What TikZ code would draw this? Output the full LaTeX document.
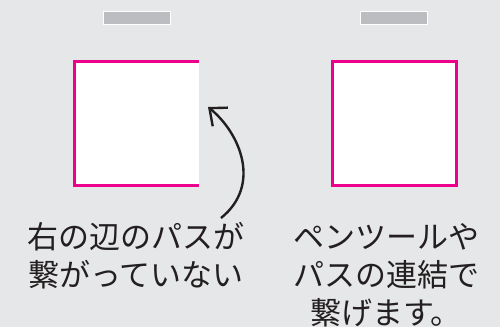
\documentclass[tikz,border=0pt]{standalone}
\usepackage{fontspec}
\newfontfamily\jpfont{Noto Sans CJK JP}
\usetikzlibrary{arrows.meta}
\definecolor{bg}{HTML}{E6E7E8}
\definecolor{bar}{HTML}{BCBDC0}
\definecolor{mag}{HTML}{EC008C}
\definecolor{ink}{HTML}{231F20}
\tikzset{
  px/.style={x=1pt,y=-1pt},
  barbox/.style={fill=bar,draw=white,line width=0.8pt},
  edge/.style={draw=mag,line width=2.7pt},
  label/.style={align=center,text=ink,inner sep=0pt,font=\jpfont\fontsize{31}{38}\selectfont},
  curved/.style={draw=ink,line width=2.4pt,-{Straight Barb[length=14pt,width=24pt,line width=2.4pt]}}
}
\begin{document}
\begin{tikzpicture}[px]
\fill[bg] (0,0) rectangle (500,327);
\useasboundingbox (0,0) rectangle (500,327);
% left
\path[barbox] (103.5,11.2) rectangle (170.5,24.2);
\fill[white] (74.7,61.7) rectangle (199,185.3);
\draw[edge] (199,61.7) -- (74.7,61.7) -- (74.7,185.3) -- (199,185.3);
% right
\path[barbox] (360.5,11.2) rectangle (427.5,24.2);
\path[edge,fill=white] (332.3,61.7) rectangle (456.3,185.3);
% arrow
\coordinate (tail) at (221,218);
\coordinate (tip) at (208,107);
\draw[curved] (tail) .. controls (262,185) and (240,133) .. (tip);
% texts
\node[label] (lt) at (136,256) {右の辺のパスが\\繋がっていない};
\node[label] (rt) at (386,275) {ペンツールや\\パスの連結で\\繋げます。};
\end{tikzpicture}
\end{document}
